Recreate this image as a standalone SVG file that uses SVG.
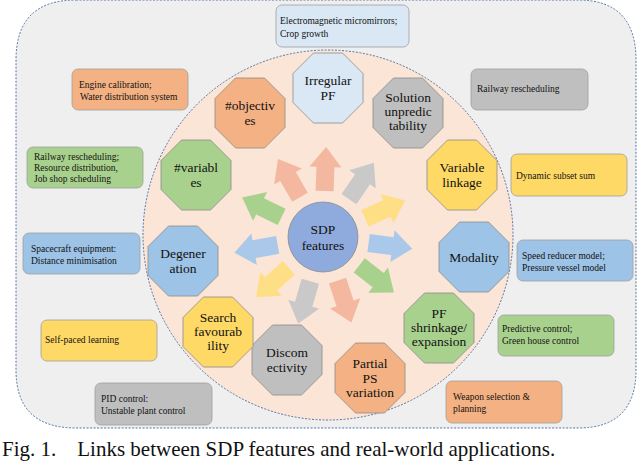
<svg xmlns="http://www.w3.org/2000/svg" width="640" height="461" viewBox="0 0 640 461" font-family="'Liberation Serif', 'Times New Roman', serif">
<defs>
<style>
text{font-family:'Liberation Serif','Times New Roman',serif;fill:#111}
.oct text,.n{font-size:13.5px;text-anchor:middle}
.box{stroke:#a0a0a0;stroke-width:0.8}
.bt{font-size:9.5px}
.o{stroke:#8a8a8a;stroke-width:0.8}
</style>
<polygon id="oc" points="-14.5,-35 14.5,-35 35,-14.5 35,14.5 14.5,35 -14.5,35 -35,14.5 -35,-14.5"/>
<polygon id="ar" points="46,-9 70,-9 70,-16 90,0 70,16 70,9 46,9"/>
</defs>
<rect x="0" y="0" width="640" height="461" fill="#fff"/>
<path d="M76,0 H578 Q636,0 636,60 V370 Q636,428 578,428 H76 Q16,428 16,370 V60 Q16,0 76,0 Z" fill="#efefef" stroke="#2f5597" stroke-width="0.8" stroke-dasharray="2,1.5"/>
<circle cx="328" cy="235" r="185" fill="#fbe5d6" stroke="#2f5597" stroke-width="0.8" stroke-dasharray="2,1.5"/>
<g id="connectors" transform="translate(323,237)">
<use href="#ar" transform="rotate(-88)" fill="#f4b8a0"/>
<use href="#ar" transform="rotate(-55.6)" fill="#c9c9c9"/>
<use href="#ar" transform="rotate(-24)" fill="#ffdf85"/>
<use href="#ar" transform="rotate(7.5)" fill="#a9c8ea"/>
<use href="#ar" transform="rotate(38)" fill="#a9d18e"/>
<use href="#ar" transform="rotate(71.6)" fill="#f4b8a0"/>
<use href="#ar" transform="rotate(106)" fill="#c9c9c9"/>
<use href="#ar" transform="rotate(138)" fill="#ffdf85"/>
<use href="#ar" transform="rotate(170)" fill="#a9c8ea"/>
<use href="#ar" transform="rotate(206)" fill="#a9d18e"/>
<use href="#ar" transform="rotate(240)" fill="#f4b8a0"/>
</g>
<g id="center"><circle cx="323" cy="237" r="35" fill="#8faadc" stroke="#8a8a8a" stroke-width="0.8"/><text class="n" x="323" y="234">SDP</text><text class="n" x="323" y="250">features</text></g>
<g id="irregular" class="oct" transform="translate(328,88)"><use href="#oc" class="o" fill="#dae8f6"/><text y="-3">Irregular</text><text y="12">PF</text></g>
<g id="solution" class="oct" transform="translate(408,113)"><use href="#oc" class="o" fill="#bfbfbf"/><text y="-11">Solution</text><text y="3">unpredic</text><text y="17">tability</text></g>
<g id="linkage" class="oct" transform="translate(462,175)"><use href="#oc" class="o" fill="#ffd966"/><text y="-3">Variable</text><text y="12">linkage</text></g>
<g id="modality" class="oct" transform="translate(474,257)"><use href="#oc" class="o" fill="#9dc3e6"/><text y="5">Modality</text></g>
<g id="shrink" class="oct" transform="translate(439,328)"><use href="#oc" class="o" fill="#a9d18e"/><text y="-10">PF</text><text y="4">shrinkage/</text><text y="18">expansion</text></g>
<g id="partial" class="oct" transform="translate(370,378)"><use href="#oc" class="o" fill="#f4b183"/><text y="-10">Partial</text><text y="5">PS</text><text y="19">variation</text></g>
<g id="discon" class="oct" transform="translate(287,360)"><use href="#oc" class="o" fill="#bfbfbf"/><text y="-3">Discom</text><text y="12">ectivity</text></g>
<g id="search" class="oct" transform="translate(218,332)"><use href="#oc" class="o" fill="#ffd966"/><text y="-10">Search</text><text y="4">favourab</text><text y="18">ility</text></g>
<g id="degen" class="oct" transform="translate(183,261)"><use href="#oc" class="o" fill="#9dc3e6"/><text y="-3">Degener</text><text y="12">ation</text></g>
<g id="variables" class="oct" transform="translate(196,175)"><use href="#oc" class="o" fill="#a9d18e"/><text y="-3">#variabl</text><text y="12">es</text></g>
<g id="objectives" class="oct" transform="translate(250,113)"><use href="#oc" class="o" fill="#f4b183"/><text y="-3">#objectiv</text><text y="12">es</text></g>
<g id="b1"><rect class="box" x="276" y="5" width="133" height="42" rx="6" fill="#dae8f6"/><text class="bt" x="280" y="24">Electromagnetic micromirrors;</text><text class="bt" x="280" y="37">Crop growth</text></g>
<g id="b2"><rect class="box" x="72" y="69" width="116" height="41" rx="6" fill="#f4b183"/><text class="bt" x="79" y="88">Engine calibration;</text><text class="bt" x="80" y="100">Water distribution system</text></g>
<g id="b3"><rect class="box" x="471" y="69" width="117" height="41" rx="6" fill="#bfbfbf"/><text class="bt" x="477" y="92">Railway rescheduling</text></g>
<g id="b4"><rect class="box" x="27" y="147" width="116" height="41" rx="6" fill="#a9d18e"/><text class="bt" x="34" y="160">Railway rescheduling;</text><text class="bt" x="34" y="171">Resource distribution,</text><text class="bt" x="34" y="182">Job shop scheduling</text></g>
<g id="b5"><rect class="box" x="511" y="154" width="116" height="42" rx="6" fill="#ffd966"/><text class="bt" x="516" y="179">Dynamic subset sum</text></g>
<g id="b6"><rect class="box" x="23" y="233" width="117" height="41" rx="6" fill="#9dc3e6"/><text class="bt" x="31" y="252">Spacecraft equipment:</text><text class="bt" x="31" y="264">Distance minimisation</text></g>
<g id="b7"><rect class="box" x="517" y="240" width="116" height="41" rx="6" fill="#9dc3e6"/><text class="bt" x="522" y="259">Speed reducer model;</text><text class="bt" x="522" y="271">Pressure vessel model</text></g>
<g id="b8"><rect class="box" x="41" y="320" width="116" height="41" rx="6" fill="#ffd966"/><text class="bt" x="45" y="343">Self-paced learning</text></g>
<g id="b9"><rect class="box" x="498" y="315" width="116" height="41" rx="6" fill="#a9d18e"/><text class="bt" x="502" y="332">Predictive control;</text><text class="bt" x="502" y="344">Green house control</text></g>
<g id="b10"><rect class="box" x="95" y="383" width="117" height="42" rx="6" fill="#bfbfbf"/><text class="bt" x="101" y="402">PID control:</text><text class="bt" x="101" y="414">Unstable plant control</text></g>
<g id="b11"><rect class="box" x="446" y="381" width="116" height="42" rx="6" fill="#f4b183"/><text class="bt" x="453" y="400">Weapon selection &amp;</text><text class="bt" x="453" y="412">planning</text></g>
<text x="2" y="456" font-size="21" xml:space="preserve">Fig. 1.    Links between SDP features and real-world applications.</text>
</svg>
